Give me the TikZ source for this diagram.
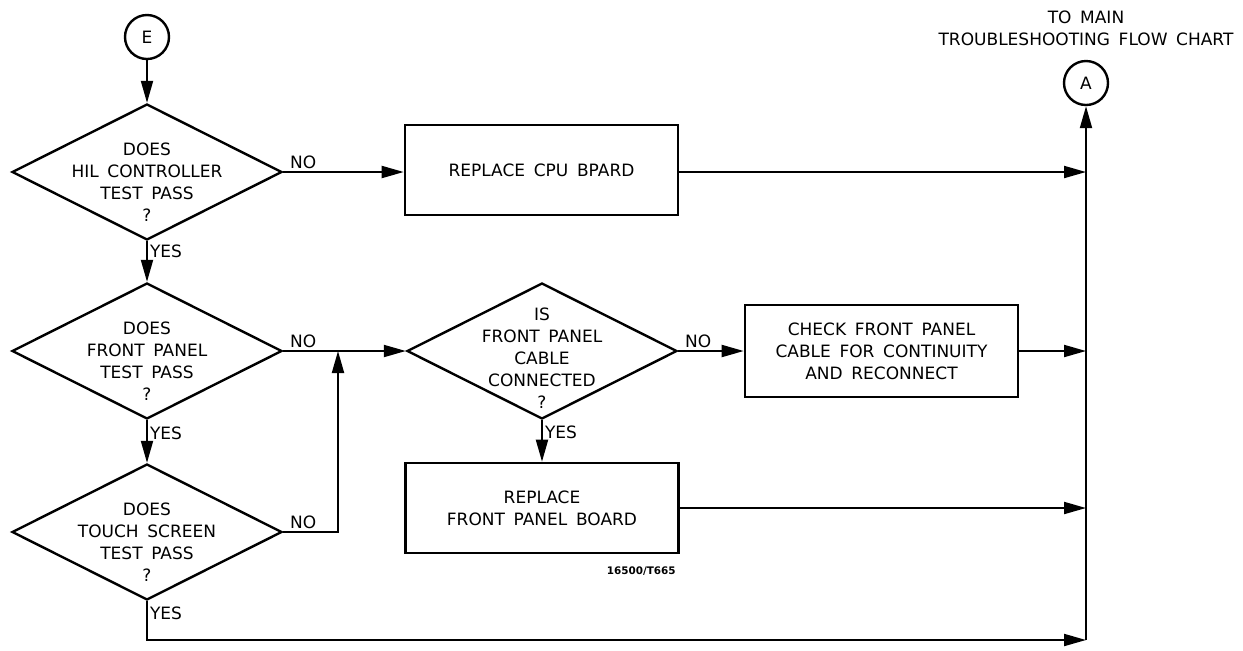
\documentclass[tikz,border=0pt]{standalone}
\usepackage{fontspec}
\setmainfont{DejaVu Sans}[WordSpace=1.6]
\usetikzlibrary{positioning,arrows.meta,shapes.geometric}

\begin{document}
\begin{tikzpicture}[
  x=0.5pt, y=-0.5pt,
  font=\fontsize{8.5}{11}\selectfont,
  box/.style={draw, line width=1.3pt, align=center, inner sep=2pt},
  proc/.style={box, minimum width=136.5pt, minimum height=45pt},
  dec/.style={draw, diamond, line width=1.2pt, minimum width=135pt,
              minimum height=68pt, inner sep=0pt},
  qtxt/.style={align=center, inner sep=0pt, yshift=-5pt},
  conn/.style={circle, draw, line width=1.2pt, minimum size=22pt, inner sep=0pt},
  arr/.style={-{Triangle[length=11pt, width=6pt]}, line width=1pt},
  lbl/.style={inner sep=1pt},
]
\useasboundingbox (0,0) rectangle (1243,650);
% ---- left column: the three tests ------------------------------------
\node[conn] (e) at (147,37) {E};
\node[dec] (d1) at (147,172) {};
\node[qtxt] (d1t) at (d1) {DOES\\HIL CONTROLLER\\TEST PASS\\?};
\node[dec] (d2) at (147,351) {};
\node[qtxt] (d2t) at (d2) {DOES\\FRONT PANEL\\TEST PASS\\?};
\node[dec] (d3) at (147,532) {};
\node[qtxt] (d3t) at (d3) {DOES\\TOUCH SCREEN\\TEST PASS\\?};
% ---- middle and right --------------------------------------------------
\node[proc] (cpu) at (541.5,170) {REPLACE CPU BPARD};
\node[dec] (d4) at (542,351) {};
\node[qtxt, yshift=1.5pt] (d4t) at (d4) {IS\\FRONT PANEL\\CABLE\\CONNECTED\\?};
\node[proc, minimum height=46pt] (chk) at (881.5,351)
  {CHECK FRONT PANEL\\CABLE FOR CONTINUITY\\AND RECONNECT};
\node[proc] (fpb) at (542,508) {REPLACE\\FRONT PANEL BOARD};
\node[font=\fontsize{5.2}{6}\selectfont\bfseries, anchor=north east,
  inner sep=0pt] (fig) at (676,566) {16500/T665};
% ---- exit connector ----------------------------------------------------
\node[conn] (a) at (1086,83) {A};
\node[align=center, above=6pt of a, inner sep=1pt] (ttl)
  {TO MAIN\\TROUBLESHOOTING FLOW CHART};
\coordinate (bot) at (1086,640);
\coordinate (jn) at (338,351);
% ---- edges ------------------------------------------------------------
\draw[arr] (e) -- (d1.north);
\draw[arr] (d1.south) -- node[lbl, right, pos=0.25]{YES} (d2.north);
\draw[arr] (d2.south) -- node[lbl, right, pos=0.3]{YES} (d3.north);
\draw[arr] (d1.east) -- node[lbl, above right, pos=0, xshift=2pt]{NO}
  (d1.east -| cpu.west);
\draw[arr] (d2.east) -- node[lbl, above right, pos=0, xshift=2pt]{NO} (d4.west);
\draw[arr] (d3.east) -- node[lbl, above right, pos=0, xshift=2pt]{NO}
  (d3.east -| jn) -- (jn);
\draw[arr] (d4.east) -- node[lbl, above right, pos=0, xshift=2pt]{NO} (chk.west);
\draw[arr] (d4.south) -- node[lbl, right, pos=0.3]{YES} (fpb.north);
\draw[arr] (d3.south) |- node[lbl, right, pos=0.15]{YES} (bot);
\draw[arr] (d1.east -| cpu.east) -- (d1.east -| bot);
\draw[arr] (chk.east) -- (chk.east -| bot);
\draw[arr] (fpb.east) -- (fpb.east -| bot);
\draw[arr] (bot) -- (a);
\end{tikzpicture}
\end{document}
